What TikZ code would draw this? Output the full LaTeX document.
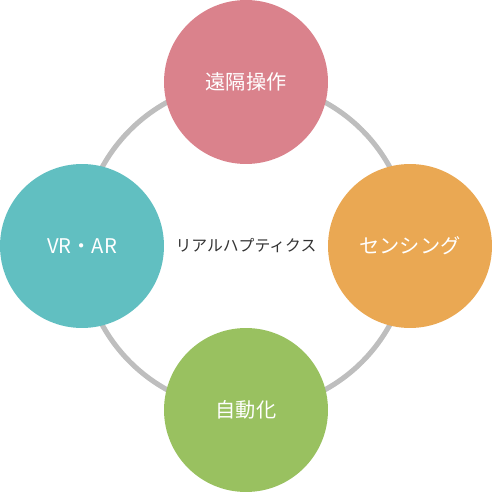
\documentclass[tikz,border=0pt]{standalone}
\usepackage{fontspec}
\setmainfont{Noto Sans CJK JP}
\definecolor{pink}{HTML}{DA828C}
\definecolor{teal}{HTML}{61BFC1}
\definecolor{orange}{HTML}{EAA853}
\definecolor{green}{HTML}{99C160}
\definecolor{ring}{HTML}{BEBEBE}
\begin{document}
\begin{tikzpicture}[x=0.02cm, y=-0.02cm,
    topic/.style = {circle, minimum size=3.28cm, inner sep=0pt, text=white, font=\fontsize{11.5}{13}\selectfont}]
                \useasboundingbox (0,0) rectangle (492,492);
                % Anneau
                \draw[ring, line width=2.9pt] (246,246) circle[radius=3.28cm];

                % Nœuds
                \node[topic, fill=pink] (tele) at (246,82) {遠隔操作};
                \node[topic, fill=teal] (vrar) at (82,246) {VR・AR};
                \node[topic, fill=orange] (sens) at (410,246) {センシング};
                \node[topic, fill=green] (auto) at (246,410) {自動化};
                \node[text=black!80, font=\fontsize{9}{11}\selectfont] (core) at (246,246) {リアルハプティクス};
\end{tikzpicture}
\end{document}
